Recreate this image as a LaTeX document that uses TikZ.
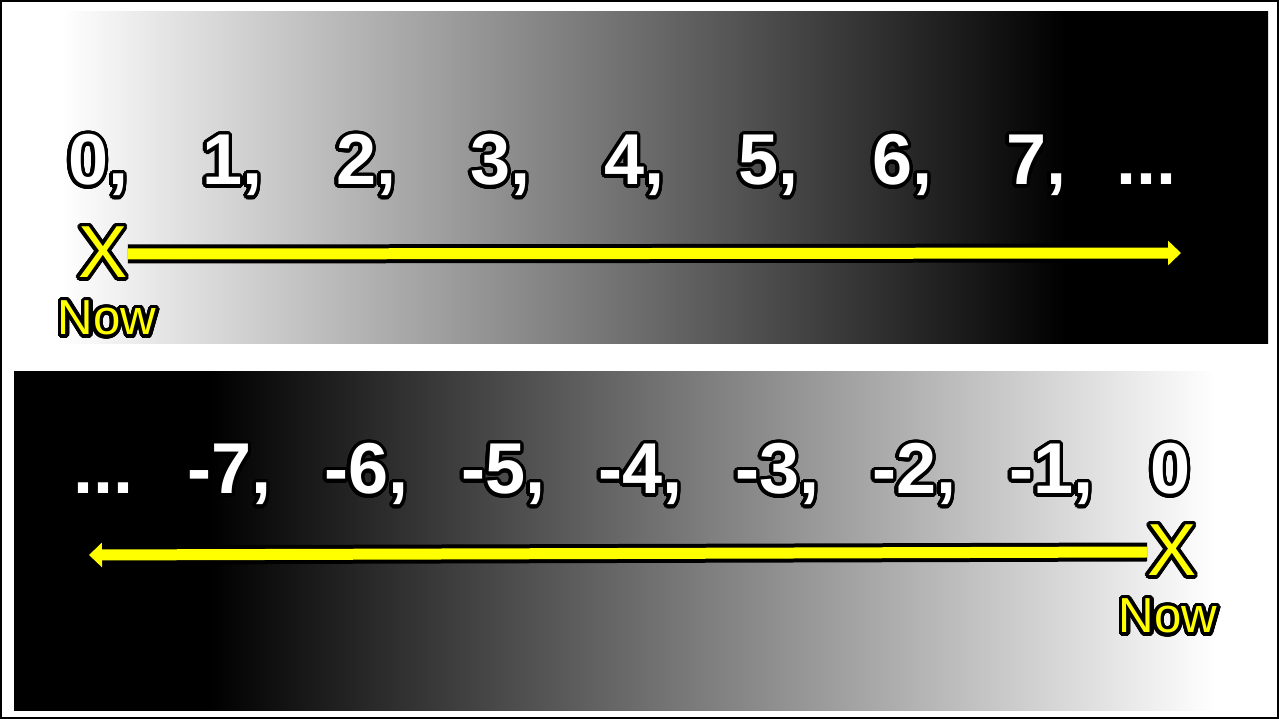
\documentclass[tikz,border=0pt]{standalone}
\usepackage{fontspec}
\setmainfont{Liberation Sans}
\usepackage{contour}
\contourlength{2pt}
\contournumber{32}
\usetikzlibrary{positioning,arrows.meta}
\definecolor{NowYellow}{RGB}{255,255,0}
\pgfdeclarehorizontalshading{fadetoblack}{100bp}{color(0bp)=(white); color(27bp)=(white); color(67bp)=(black); color(100bp)=(black)}
\pgfdeclarehorizontalshading{fadetowhite}{100bp}{color(0bp)=(black); color(33bp)=(black); color(74bp)=(white); color(100bp)=(white)}
\tikzset{
  num/.style={text=white,inner sep=0pt,anchor=base west,font=\bfseries\fontsize{41}{41}\selectfont},
  xmark/.style={text=NowYellow,inner sep=0pt,font=\fontsize{42}{42}\selectfont},
  nowlabel/.style={text=NowYellow,inner sep=0pt,anchor=base,font=\fontsize{28}{28}\selectfont},
  rimline/.style={draw=black,line width=0.38cm,-{Triangle[length=0.32cm,width=0.56cm]}},
  yellowline/.style={draw=NowYellow,line width=0.22cm,-{Triangle[length=0.26cm,width=0.48cm]}},
}

\begin{document}
\begin{tikzpicture}[x=0.02cm,y=-0.02cm]
  \useasboundingbox (0,0) rectangle (1279,719);
  % the two bands
  \shade[shading=fadetoblack] (10,12) rectangle (1268,344);
  \shade[shading=fadetowhite] (14,372) rectangle (1240,710);
  \draw[line width=0.04cm] (1,1) rectangle (1278,718);

  % counting forward
  \foreach \n in {0,...,7} {\node[num] (t\n) at ({68+134*\n},185) {\contour{black}{\n,}};}
  \node[num] (tdots) at (1116,185) {\contour{black}{...}};
  \node[xmark] (xa) at (103,254) {\contour{black}{X}};
  \node[nowlabel] (nowa) at (107,335) {\contour{black}{Now}};
  \coordinate (enda) at (1181,253);
  \draw[rimline] (xa.east) -- (enda);
  \draw[yellowline] (xa.east) -- (enda);

  % counting backward
  \node[num] (bdots) at (73,494) {\contour{black}{...}};
  \foreach \n in {7,...,1} {\node[num] (b\n) at ({187+137*(7-\n)},494) {\contour{black}{-\n,}};}
  \node[num] (b0) at (1150,494) {\contour{black}{0}};
  \node[xmark] (xb) at (1172,552) {\contour{black}{X}};
  \node[nowlabel] (nowb) at (1168,633) {\contour{black}{Now}};
  \coordinate (endb) at (89,555);
  \draw[rimline] (xb.west) -- (endb);
  \draw[yellowline] (xb.west) -- (endb);
\end{tikzpicture}
\end{document}
